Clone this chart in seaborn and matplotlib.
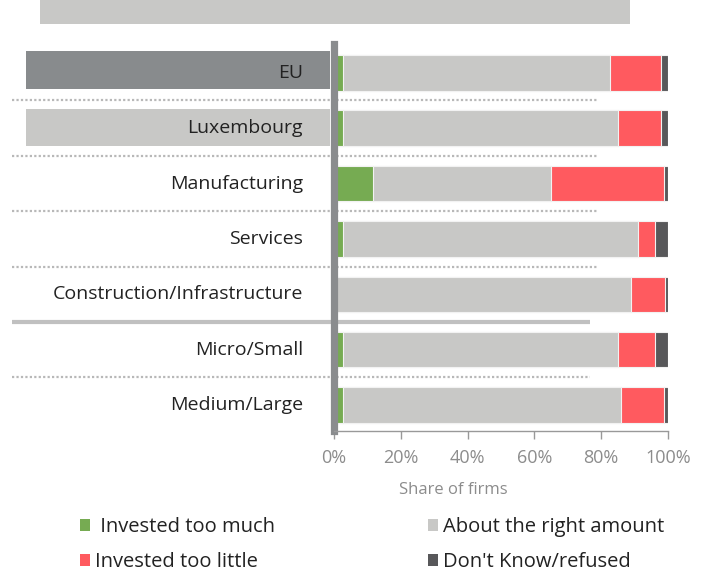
import matplotlib
matplotlib.use("Agg")
import matplotlib.pyplot as plt
import matplotlib.transforms as mtransforms
from matplotlib.patches import Rectangle, Patch
import seaborn as sns
import pandas as pd

categories = ["EU", "Luxembourg", "Manufacturing", "Services",
              "Construction/Infrastructure", "Micro/Small", "Medium/Large"]
too_much = [2.8, 2.8, 11.8, 2.8, 0.0, 2.8, 2.8]
right_amount = [79.8, 82.1, 53.1, 88.3, 89.0, 82.1, 83.1]
too_little = [15.3, 13.0, 34.0, 4.9, 10.0, 11.1, 13.0]
dont_know = [2.1, 2.1, 1.1, 4.0, 1.0, 4.0, 1.1]

series_names = [" Invested too much", "About the right amount",
                "Invested too little", "Don't Know/refused"]
colors = ["#76ab52", "#c8c8c6", "#ff5a5f", "#58585a"]
xticks = [0, 20, 40, 60, 80, 100]

sns.set_theme(style="white")
plt.rcParams["font.family"] = ["Open Sans", "DejaVu Sans"]

df = pd.DataFrame({"category": categories,
                   series_names[0]: too_much,
                   series_names[1]: right_amount,
                   series_names[2]: too_little,
                   series_names[3]: dont_know})
# cumulative sums so the bars can be overlaid from the longest to the shortest
cum = df[series_names].cumsum(axis=1)
cum["category"] = df["category"]

fig = plt.figure(figsize=(7.04, 5.73), dpi=100)
ax = fig.add_axes([334 / 704, 1 - 431 / 573, 334 / 704, 387 / 573])

for name, col in reversed(list(zip(series_names, colors))):
    sns.barplot(data=cum, x=name, y="category", color=col, orient="h",
                width=0.64, edgecolor="#f2f2f2", linewidth=0.8, ax=ax,
                saturation=1)

ax.set_xlim(0, 100)
ax.set_ylim(6.47, -0.52)
ax.set_xticks(xticks)
ax.set_xticklabels([f"{t}%" for t in xticks], color="#8c8c8c", fontsize=13)
ax.tick_params(axis="x", bottom=True, length=6, width=1, color="#999999", pad=7)
ax.set_yticks([])
ax.set_ylabel("")
ax.set_xlabel("Share of firms", color="#8c8c8c", fontsize=12)
ax.xaxis.set_label_coords(0.356, -0.133)

for s in ["top", "right"]:
    ax.spines[s].set_visible(False)
ax.spines["left"].set_color("#8a8c8e")
ax.spines["left"].set_linewidth(5.2)
ax.spines["bottom"].set_color("#999999")
ax.spines["bottom"].set_linewidth(1)

trans = mtransforms.blended_transform_factory(fig.transFigure, ax.transData)

# label boxes for EU and Luxembourg
ax.add_patch(Rectangle((26 / 704, -0.39), 304 / 704, 0.69, transform=trans,
                       facecolor="#888b8d", edgecolor="none", clip_on=False, zorder=0))
ax.add_patch(Rectangle((26 / 704, 0.66), 304 / 704, 0.66, transform=trans,
                       facecolor="#c8c8c6", edgecolor="none", clip_on=False, zorder=0))

for i, cat in enumerate(categories):
    ax.text(303 / 704, i, cat, transform=trans,
            ha="right", va="center", fontsize=14, color="#222222")

# separators between rows
for i in range(6):
    if i == 4:
        ax.plot([12 / 704, 590 / 704], [i + 0.5, i + 0.5], transform=trans,
                color="#c0c0c0", lw=3, clip_on=False, solid_capstyle="butt")
    else:
        x1 = 597 / 704 if i < 4 else 590 / 704
        ax.plot([12 / 704, x1], [i + 0.5, i + 0.5], transform=trans,
                color="#b8b8b8", lw=1.6, ls=(0, (1, 1)), clip_on=False)

# title placeholder strip
fig.patches.append(Rectangle((40 / 704, 1 - 24 / 573), 590 / 704, 24 / 573,
                             transform=fig.transFigure, facecolor="#c8c8c6",
                             edgecolor="none"))

leg_kw = dict(frameon=False, fontsize=14.5, handlelength=0.5, handleheight=0.5,
              handletextpad=0.25, labelspacing=0.75, loc="upper left",
              borderpad=0, borderaxespad=0, labelcolor="#222222")
h = [Patch(facecolor=c, edgecolor="none") for c in colors]
fig.legend([h[0], h[2]], [series_names[0], series_names[2]],
           bbox_to_anchor=(80 / 704, 1 - 517 / 573), **leg_kw)
fig.legend([h[1], h[3]], [series_names[1], series_names[3]],
           bbox_to_anchor=(428 / 704, 1 - 517 / 573), **leg_kw)

fig.savefig("out.png", dpi=100)
